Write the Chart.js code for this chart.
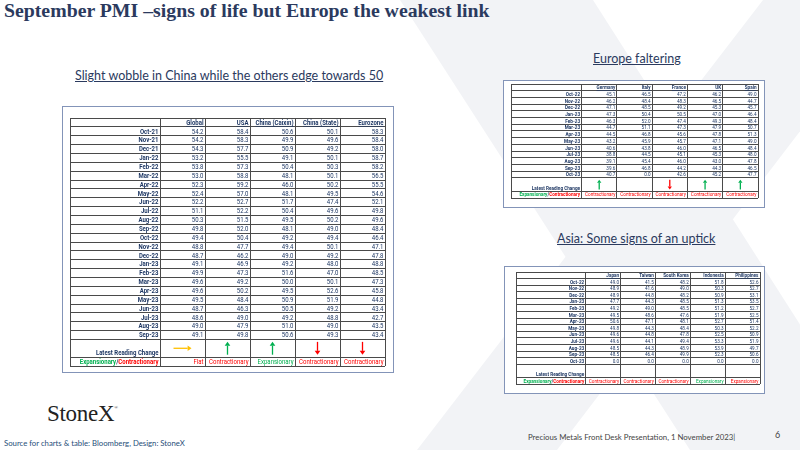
<!DOCTYPE html>
<html>
<head>
<meta charset="utf-8">
<script src="https://cdn.jsdelivr.net/npm/chart.js@4.4.1/dist/chart.umd.min.js"></script>
<style>
  body { margin:0; width:800px; height:450px; position:relative; overflow:hidden; background:#fff; font-family: Lato, "Open Sans", sans-serif; }
  .wm { position:absolute; left:0; top:0; width:800px; height:450px; background:#f2f3f6; }
  #wmA { clip-path: polygon(400px 0, 593px 0, 880px 450px, 690px 450px); }
  #wmB { clip-path: polygon(763px 0, 900px 0, 557px 450px, 417px 450px); }
  .frame { position:absolute; background:#fff; border:1px solid #8394b8; }
  .box { position:absolute; }
  .title { position:absolute; left:4px; top:-1px; font-family:"Liberation Serif", serif; font-weight:bold; font-size:19.8px; color:#2b3a5e; white-space:nowrap; }
  .sub { position:absolute; font-size:12.5px; color:#2b3a5e; text-decoration:underline; white-space:nowrap; }
  .logo { position:absolute; left:47px; top:401px; font-family:"Liberation Serif", serif; font-size:23px; color:#222; letter-spacing:-0.3px; }
  .logo sup { font-size:5px; vertical-align:top; position:relative; top:4px; }
  .src { position:absolute; left:4px; top:438px; font-size:7.75px; color:#1f4e79; white-space:nowrap; }
  .foot { position:absolute; left:528px; top:432px; font-size:7.8px; color:#444; white-space:nowrap; }
  .page { position:absolute; left:775px; top:429px; font-size:9px; color:#444; }
</style>
</head>
<body>
<div class="wm" id="wmA"></div>
<div class="wm" id="wmB"></div>

<div class="title">September PMI –signs of life but Europe the weakest link</div>
<div class="sub" style="left:75px; top:68px;">Slight wobble in China while the others edge towards 50</div>
<div class="sub" style="left:593px; top:51px;">Europe faltering</div>
<div class="sub" style="left:557px; top:231px;">Asia: Some signs of an uptick</div>

<div class="frame" style="left:62px; top:106px; width:330px; height:265px;"></div>
<div class="frame" style="left:503px; top:80px; width:260px; height:126px;"></div>
<div class="frame" style="left:504px; top:266px; width:259px; height:126px;"></div>

<div class="box" style="left:69px; top:117px; width:317px; height:250px;"><canvas id="mainTable"></canvas></div>
<div class="box" style="left:510px; top:83px; width:249px; height:116px;"><canvas id="euTable"></canvas></div>
<div class="box" style="left:515px; top:271px; width:246px; height:114px;"><canvas id="asiaTable"></canvas></div>

<div class="logo">StoneX<sup>®</sup></div>
<div class="src">Source for charts &amp; table: Bloomberg, Design: StoneX</div>
<div class="foot">Precious Metals Front Desk Presentation, 1 November 2023|</div>
<div class="page">6</div>

<script>
// ---- global table ----
const mainCols = ['Global', 'USA', 'China (Caixin)', 'China (State)', 'Eurozone'];
const mainMonths = ['Oct-21','Nov-21','Dec-21','Jan-22','Feb-22','Mar-22','Apr-22','May-22','Jun-22','Jul-22','Aug-22','Sep-22',
                    'Oct-22','Nov-22','Dec-22','Jan-23','Feb-23','Mar-23','Apr-23','May-23','Jun-23','Jul-23','Aug-23','Sep-23'];
const globalPmi   = [54.2,54.2,54.3,53.2,53.8,53.0,52.3,52.4,52.2,51.1,50.3,49.8,49.4,48.8,48.7,49.1,49.9,49.6,49.6,49.5,48.7,48.6,49.0,49.1];
const usaPmi      = [58.4,58.3,57.7,55.5,57.3,58.8,59.2,57.0,52.7,52.2,51.5,52.0,50.4,47.7,46.2,46.9,47.3,49.2,50.2,48.4,46.3,49.0,47.9,49.8];
const caixinPmi   = [50.6,49.9,50.9,49.1,50.4,48.1,46.0,48.1,51.7,50.4,49.5,48.1,49.2,49.4,49.0,49.2,51.6,50.0,49.5,50.9,50.5,49.2,51.0,50.6];
const chinaState  = [50.1,49.6,49.2,50.1,50.3,50.1,50.2,49.5,47.4,49.6,50.2,49.0,49.4,50.1,49.2,48.0,47.0,50.1,52.6,51.9,49.2,48.8,49.0,49.3];
const eurozonePmi = [58.3,58.4,58.0,58.7,58.2,56.5,55.5,54.6,52.1,49.8,49.6,48.4,46.4,47.1,47.8,48.8,48.5,47.3,45.8,44.8,43.4,42.7,43.5,43.4];
const mainArrows  = ['flat','up','up','down','down'];
const mainStatus  = ['Flat','Contractionary','Expansionary','Contractionary','Contractionary'];
const mainTone    = ['neg','neg','pos','neg','neg'];

// ---- europe table ----
const euCols = ['Germany', 'Italy', 'France', 'UK', 'Spain'];
const euMonths = ['Oct-22','Nov-22','Dec-22','Jan-23','Feb-23','Mar-23','Apr-23','May-23','Jun-23','Jul-23','Aug-23','Sep-23','Oct-23'];
const germany = [45.1,46.2,47.1,47.3,46.3,44.7,44.5,43.2,40.6,38.8,39.1,39.6,40.7];
const italy   = [46.5,48.4,48.5,50.4,52.0,51.1,46.8,45.9,43.8,44.5,45.4,46.8,0.0];
const france  = [47.2,48.3,49.2,50.5,47.4,47.3,45.6,45.7,46.0,45.1,46.0,44.2,42.6];
const uk      = [46.2,46.5,45.3,47.0,49.3,47.9,47.8,47.1,46.5,45.3,43.0,44.3,45.2];
const spain   = [49.0,44.7,45.7,46.4,48.4,50.7,51.3,49.0,48.4,48.0,47.8,46.5,47.7];
const euArrows = ['up','','down','up','up'];
const euStatus = ['Contractionary','Contractionary','Contractionary','Contractionary','Contractionary'];
const euTone   = ['neg','neg','neg','neg','neg'];

// ---- asia table ----
const asiaCols = ['Japan', 'Taiwan', 'South Korea', 'Indonesia', 'Philippines'];
const asiaMonths = ['Oct-22','Nov-22','Dec-22','Jan-23','Feb-23','Mar-23','Apr-23','May-23','Jun-23','Jul-23','Aug-23','Sep-23','Oct-23'];
const japan       = [49.0,48.9,48.9,47.7,49.2,49.5,50.6,49.8,49.6,49.6,48.5,48.5,0.0];
const taiwan      = [41.5,41.6,44.8,44.3,49.0,48.6,47.1,44.3,44.8,44.1,44.3,46.4,0.0];
const southKorea  = [48.2,49.0,48.2,48.5,48.5,47.6,48.1,48.4,47.8,49.4,48.9,49.9,0.0];
const indonesia   = [51.8,50.3,50.9,51.3,51.2,51.9,52.7,50.3,52.5,53.3,53.9,52.3,0.0];
const philippines = [52.6,52.7,53.1,53.5,52.7,52.5,51.4,52.2,50.9,51.9,49.7,50.6,0.0];
const asiaArrows = ['','','','',''];
const asiaStatus = ['Contractionary','Contractionary','Contractionary','Expansionary','Expansionary'];
const asiaTone   = ['neg','neg','neg','pos','neg'];

const NAVY = '#1f3864';
const LINE = '#4a4a4a';
const GREEN = '#00b050';
const RED = '#ff0000';
const FAM = 'Roboto, sans-serif';
const SX = 0.86;   // squeeze Roboto towards Calibri widths

// right-aligned text, squeezed horizontally so it fits its cell
function putText(ctx, text, xr, yy, maxW, k0) {
  const w = ctx.measureText(text).width;
  const k = k0 || Math.min(SX, maxW / w);
  ctx.save();
  ctx.translate(xr, yy);
  ctx.scale(k, 1);
  ctx.fillText(text, 0, 0);
  ctx.restore();
  return w * k;
}

function drawArrow(ctx, cx, cy, dir, len) {
  const hw = len * 0.22, hl = len * 0.3;
  ctx.save();
  if (dir === 'flat') {
    ctx.strokeStyle = ctx.fillStyle = '#ffc000';
    ctx.lineWidth = 1.3;
    ctx.beginPath(); ctx.moveTo(cx - len * 0.7, cy); ctx.lineTo(cx + len * 0.7 - hl, cy); ctx.stroke();
    ctx.beginPath(); ctx.moveTo(cx + len * 0.7, cy); ctx.lineTo(cx + len * 0.7 - hl, cy - hw); ctx.lineTo(cx + len * 0.7 - hl, cy + hw); ctx.fill();
  } else {
    const s = dir === 'up' ? -1 : 1;
    ctx.strokeStyle = ctx.fillStyle = dir === 'up' ? GREEN : RED;
    ctx.lineWidth = 1.3;
    const tip = cy + s * len / 2;
    ctx.beginPath(); ctx.moveTo(cx, cy - s * len / 2); ctx.lineTo(cx, tip - s * hl); ctx.stroke();
    ctx.beginPath(); ctx.moveTo(cx, tip); ctx.lineTo(cx - hw, tip - s * hl); ctx.lineTo(cx + hw, tip - s * hl); ctx.fill();
  }
  ctx.restore();
}

const tableText = {
  id: 'tableText',
  afterDatasetsDraw(chart, args, o) {
    const { ctx, scales: { x, y } } = chart;
    const n = o.months.length;
    const colW = x.getPixelForValue(1) - x.getPixelForValue(0);
    const half = colW / 2;
    const rowH = Math.abs(y.getPixelForValue(1) - y.getPixelForValue(0));
    const labRight = x.getPixelForValue(2) - 1.5;
    ctx.save();
    ctx.textBaseline = 'middle';
    ctx.textAlign = 'right';
    ctx.font = 'bold ' + o.fs + 'px ' + FAM;
    ctx.fillStyle = NAVY;
    ctx.strokeStyle = NAVY;
    ctx.lineWidth = 0.6;
    // column headers, underlined
    o.cols.forEach((c, i) => {
      const xr = x.getPixelForValue(i + 3) - 1.5;
      const yy = y.getPixelForValue(0.5) + 0.5;
      const w = putText(ctx, c, xr, yy, colW - 3);
      ctx.beginPath(); ctx.moveTo(xr - w, yy + o.fs * 0.5); ctx.lineTo(xr, yy + o.fs * 0.5); ctx.stroke();
    });
    // row labels
    o.months.forEach((m, j) => putText(ctx, m, labRight, y.getPixelForValue(j + 1.5) + 0.5, colW * 2 - 3));
    putText(ctx, 'Latest Reading Change', labRight, y.getPixelForValue(n + 2.5) + 0.5, colW * 2 - 3);
    // Expansionary/Contractionary label
    const ys = y.getPixelForValue(n + 3.5) + 0.5;
    const parts = [['Contractionary', RED], ['/', NAVY], ['Expansionary', GREEN]];
    const total = parts.reduce((a, p) => a + ctx.measureText(p[0]).width, 0);
    const k = Math.min(SX, (colW * 2 - 3) / total);
    let off = 0;
    parts.forEach(p => {
      ctx.fillStyle = p[1];
      off += putText(ctx, p[0], labRight - off, ys, 0, k);
    });

    // values, arrows and status from the datasets
    ctx.font = o.fs + 'px ' + FAM;
    chart.data.datasets.forEach((ds, d) => {
      const meta = chart.getDatasetMeta(d);
      meta.data.forEach((el, kk) => {
        const p = ds.data[kk];
        if (p.v !== undefined) {
          ctx.fillStyle = NAVY;
          putText(ctx, p.v, el.x + half - 1.5, el.y + 0.5, colW - 3);
        } else if (p.a) {
          drawArrow(ctx, el.x, el.y, p.a, rowH * 1.45);
        } else if (p.s) {
          ctx.fillStyle = p.t === 'pos' ? GREEN : RED;
          putText(ctx, p.s, el.x + half - 1.5, el.y + 0.5, colW - 2);
        }
      });
    });
    ctx.restore();
  }
};

function buildTable(id, cols, months, series, arrows, status, tone, fs) {
  const n = months.length;
  const rows = n + 4;
  const datasets = series.map((vals, i) => ({
    label: cols[i],
    data: vals.map((v, j) => ({ x: i + 2.5, y: j + 1.5, v: v.toFixed(1) })),
    pointRadius: 0
  }));
  datasets.push({ label: 'arrows', data: arrows.map((a, i) => ({ x: i + 2.5, y: n + 2, a: a })), pointRadius: 0 });
  datasets.push({ label: 'status', data: status.map((s, i) => ({ x: i + 2.5, y: n + 3.5, s: s, t: tone[i] })), pointRadius: 0 });

  return new Chart(document.getElementById(id), {
    type: 'scatter',
    data: { datasets: datasets },
    options: {
      responsive: true,
      maintainAspectRatio: false,
      animation: false,
      events: [],
      layout: { padding: 1 },
      plugins: {
        legend: { display: false },
        tooltip: { enabled: false },
        tableText: { cols: cols, months: months, fs: fs }
      },
      scales: {
        x: {
          type: 'linear', min: 0, max: 7,
          ticks: { display: false, stepSize: 1 },
          grid: { drawTicks: false, lineWidth: 1, color: c => (c.tick && c.tick.value === 1) ? 'rgba(0,0,0,0)' : LINE },
          border: { display: false }
        },
        y: {
          type: 'linear', min: 0, max: rows, reverse: true,
          ticks: { display: false, stepSize: 1 },
          grid: { drawTicks: false, lineWidth: 1, color: c => (c.tick && c.tick.value === n + 2) ? 'rgba(0,0,0,0)' : LINE },
          border: { display: false }
        }
      }
    },
    plugins: [tableText]
  });
}

buildTable('mainTable', mainCols, mainMonths, [globalPmi, usaPmi, caixinPmi, chinaState, eurozonePmi], mainArrows, mainStatus, mainTone, 7);
buildTable('euTable', euCols, euMonths, [germany, italy, france, uk, spain], euArrows, euStatus, euTone, 5.4);
buildTable('asiaTable', asiaCols, asiaMonths, [japan, taiwan, southKorea, indonesia, philippines], asiaArrows, asiaStatus, asiaTone, 5.4);
</script>
</body>
</html>
